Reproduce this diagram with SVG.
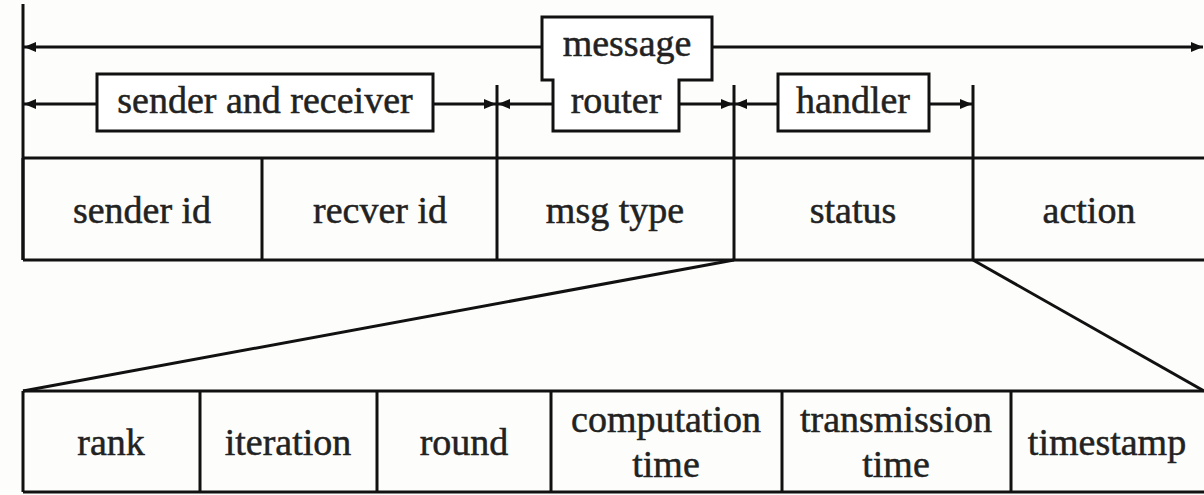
<svg xmlns="http://www.w3.org/2000/svg" width="1204" height="495" viewBox="0 0 1204 495">
<style>
.ln{stroke:#111;stroke-width:3;fill:none}
.bx{stroke:#111;stroke-width:3;fill:#fff}
.t{font-size:38px;fill:#222;stroke:#222;stroke-width:0.5;text-anchor:middle}
</style>
<defs>
<marker id="ah" viewBox="0 0 12 10" refX="12" refY="5" markerWidth="12" markerHeight="10" markerUnits="userSpaceOnUse" orient="auto">
<path d="M0,0 L12,5 L0,10 z" fill="#111"/>
</marker>
</defs>
<rect width="1204" height="495" fill="#fdfdfb"/>
<g id="connectors">
<line class="ln" x1="23" y1="4" x2="23" y2="260"/>
<line class="ln" x1="497" y1="85" x2="497" y2="260"/>
<line class="ln" x1="734" y1="85" x2="734" y2="260"/>
<line class="ln" x1="973" y1="85" x2="973" y2="260"/>
<line class="ln" x1="542" y1="47" x2="24" y2="47" marker-end="url(#ah)"/>
<line class="ln" x1="712" y1="47" x2="1203" y2="47" marker-end="url(#ah)"/>
<line class="ln" x1="97" y1="104" x2="24" y2="104" marker-end="url(#ah)"/>
<line class="ln" x1="433" y1="104" x2="496" y2="104" marker-end="url(#ah)"/>
<line class="ln" x1="553" y1="104" x2="498" y2="104" marker-end="url(#ah)"/>
<line class="ln" x1="679" y1="104" x2="733" y2="104" marker-end="url(#ah)"/>
<line class="ln" x1="778" y1="104" x2="735" y2="104" marker-end="url(#ah)"/>
<line class="ln" x1="929" y1="104" x2="972" y2="104" marker-end="url(#ah)"/>
<line class="ln" x1="734" y1="260" x2="23" y2="391"/>
<line class="ln" x1="973" y1="260" x2="1204" y2="391"/>
</g>
<g font-family="Liberation Serif, Times New Roman, serif">
<g id="message-router">
<path class="bx" d="M542,17 H712 V80 H679 V131 H553 V80 H542 Z"/>
<text class="t" x="627" y="56">message</text>
<text class="t" x="616" y="113">router</text>
</g>
<g id="sender-receiver">
<rect class="bx" x="97" y="74" width="336" height="57"/>
<text class="t" x="265" y="113">sender and receiver</text>
</g>
<g id="handler">
<rect class="bx" x="778" y="74" width="151" height="57"/>
<text class="t" x="853" y="113">handler</text>
</g>
<g id="top-table">
<path class="ln" d="M23,158 H1206 M23,260 H1206 M23,158 V260 M262,158 V260"/>
<text class="t" x="142" y="223">sender id</text>
<text class="t" x="380" y="223">recver id</text>
<text class="t" x="615" y="223">msg type</text>
<text class="t" x="853" y="223">status</text>
<text class="t" x="1089" y="223">action</text>
</g>
<g id="bottom-table">
<path class="ln" d="M23,391 H1206 M23,492 H1206 M23,391 V492 M200,391 V492 M377,391 V492 M551,391 V492 M782,391 V492 M1011,391 V492"/>
<text class="t" x="111" y="455">rank</text>
<text class="t" x="288" y="455">iteration</text>
<text class="t" x="464" y="455">round</text>
<text class="t" x="666" y="432">computation</text>
<text class="t" x="666" y="477">time</text>
<text class="t" x="896" y="432">transmission</text>
<text class="t" x="896" y="477">time</text>
<text class="t" x="1107" y="455">timestamp</text>
</g>
</g>
</svg>
